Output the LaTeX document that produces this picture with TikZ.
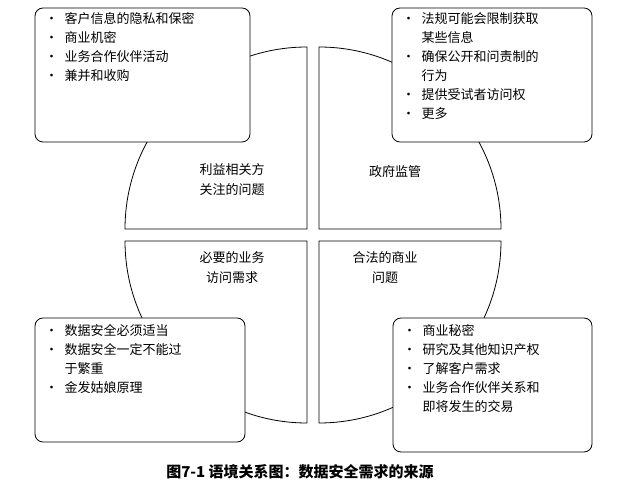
\documentclass[tikz,border=0pt]{standalone}
\usepackage{fontspec}
\setmainfont{Noto Sans CJK SC}
\usetikzlibrary{positioning}

\begin{document}
\begin{tikzpicture}[x=1pt,y=1pt,
sector/.style={draw,thick,fill=white},
box/.style={draw,thick,rounded corners=8pt,fill=white},
list/.style={anchor=north west,align=left,font=\fontsize{13}{19}\selectfont,inner sep=0pt},
label/.style={align=center,font=\fontsize{13}{20}\selectfont}]
\useasboundingbox (0,0) rectangle (626,500);

% sectors
\draw[sector,shift={(-6,6)}] (313,265) -- ++(180:182) arc (180:90:182) -- cycle;
\draw[sector,shift={(6,6)}] (313,265) -- ++(90:182) arc (90:0:182) -- cycle;
\draw[sector,shift={(-6,-6)}] (313,265) -- ++(180:182) arc (180:270:182) -- cycle;
\draw[sector,shift={(6,-6)}] (313,265) -- ++(270:182) arc (270:360:182) -- cycle;

% sector labels
\node[label] (stake) at (232,320) {利益相关方\\关注的问题};
\node[label] (gov) at (395,328) {政府监管};
\node[label] (need) at (232,232) {必要的业务\\访问需求};
\node[label] (legal) at (385,232) {合法的商业\\问题};

% boxes
\draw[box] (35,358) rectangle (250,492);
\draw[box] (392,358) rectangle (592,492);
\draw[box] (35,58) rectangle (245,182);
\draw[box] (393,48) rectangle (592,182);

% box texts
\node[list] (tltext) at (45,488) {·\enspace 客户信息的隐私和保密\\·\enspace 商业机密\\·\enspace 业务合作伙伴活动\\·\enspace 兼并和收购};
\node[list] (trtext) at (402,488) {·\enspace 法规可能会限制获取\\\phantom{·\enspace }某些信息\\·\enspace 确保公开和问责制的\\\phantom{·\enspace }行为\\·\enspace 提供受试者访问权\\·\enspace 更多};
\node[list] (bltext) at (45,176) {·\enspace 数据安全必须适当\\·\enspace 数据安全一定不能过\\\phantom{·\enspace }于繁重\\·\enspace 金发姑娘原理};
\node[list] (brtext) at (403,176) {·\enspace 商业秘密\\·\enspace 研究及其他知识产权\\·\enspace 了解客户需求\\·\enspace 业务合作伙伴关系和\\\phantom{·\enspace }即将发生的交易};

% caption
\node[font=\fontsize{15}{17}\selectfont\bfseries] (caption) at (300,28) {图7-1 语境关系图：数据安全需求的来源};
\end{tikzpicture}
\end{document}
